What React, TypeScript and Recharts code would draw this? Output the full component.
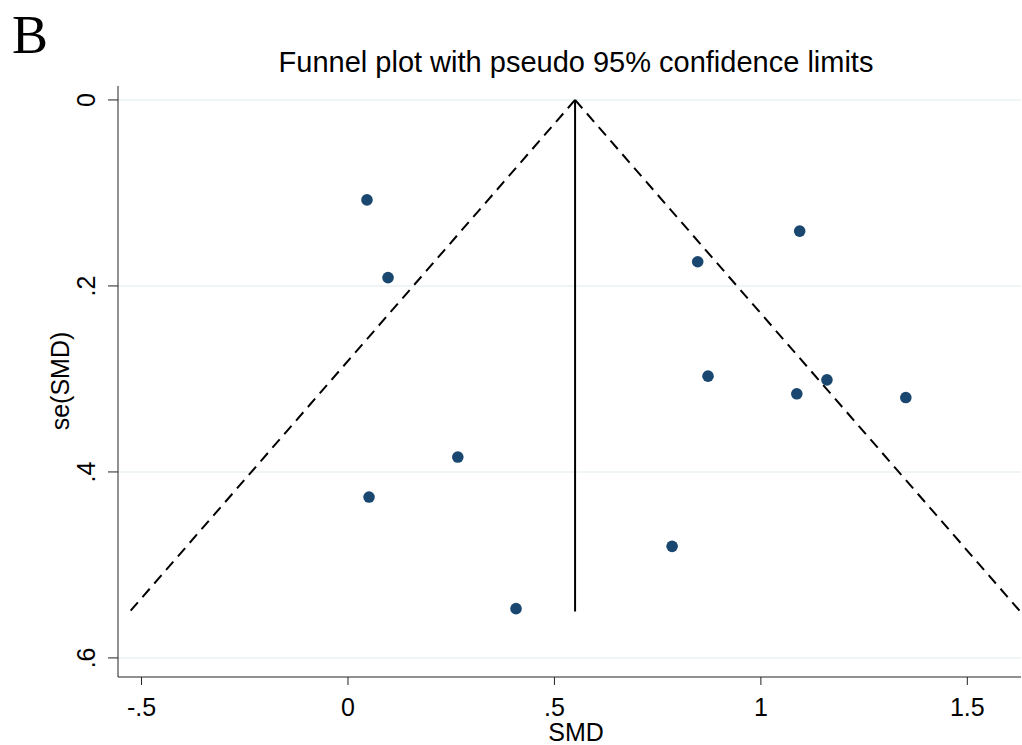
import React from "react";
import {
  ComposedChart,
  Scatter,
  XAxis,
  YAxis,
  CartesianGrid,
  ReferenceLine,
} from "recharts";

// study estimates
const smd = [0.046, 0.097, 1.094, 0.847, 0.872, 1.087, 1.16, 1.351, 0.266, 0.051, 0.785, 0.407];
const seSmd = [0.1075, 0.191, 0.141, 0.174, 0.297, 0.316, 0.301, 0.32, 0.384, 0.427, 0.48, 0.547];

// funnel: pooled estimate and pseudo 95% limits at max se
const apex = [0.55, 0];
const leftEnd = [-0.528, 0.55];
const rightEnd = [1.628, 0.55];

const xTicks = [-0.5, 0, 0.5, 1, 1.5];
const xTickLabels = ["-.5", "0", ".5", "1", "1.5"];
const yTicks = [0, 0.2, 0.4, 0.6];
const yTickLabels = ["0", ".2", ".4", ".6"];

const points = smd.map((x, i) => ({ x, y: seSmd[i] }));

const FONT = "'Liberation Sans', Arial, sans-serif";
const AXIS = "#222";

const YTick = (props: any) => {
  const { x, y, payload } = props;
  const i = yTicks.indexOf(payload.value);
  const bx = x - 11;
  return (
    <text
      x={bx}
      y={y}
      transform={`rotate(-90, ${bx}, ${y})`}
      textAnchor="middle"
      fontSize={25}
      fontFamily={FONT}
      fill="#000"
    >
      {yTickLabels[i]}
    </text>
  );
};

const XTick = (props: any) => {
  const { x, y, payload } = props;
  const i = xTicks.indexOf(payload.value);
  return (
    <text x={x} y={y} dy="0.71em" textAnchor="middle" fontSize={25} fontFamily={FONT} fill="#000">
      {xTickLabels[i]}
    </text>
  );
};

const Dot = (props: any) => <circle cx={props.cx} cy={props.cy} r={5.8} fill="#1a476f" />;

export default function App() {
  return (
    <div style={{ position: "absolute", left: 0, top: 0, width: 1022, height: 745, background: "#fff" }}>
      <ComposedChart width={1022} height={745} margin={{ top: 86, right: 1, bottom: 0, left: 0 }}>
        <CartesianGrid stroke="#eaf2f3" strokeWidth={1.5} vertical={false} horizontalValues={yTicks} />
        <XAxis
          type="number"
          dataKey="x"
          domain={[-0.557, 1.63]}
          ticks={xTicks}
          allowDataOverflow
          height={68}
          tickSize={8}
          tickMargin={13}
          stroke={AXIS}
          tick={<XTick />}
        />
        <YAxis
          type="number"
          dataKey="y"
          reversed
          domain={[-0.015, 0.6205]}
          ticks={yTicks}
          allowDataOverflow
          width={118}
          tickSize={10}
          stroke={AXIS}
          tick={<YTick />}
        />
        <ReferenceLine
          segment={[{ x: apex[0], y: apex[1] }, { x: leftEnd[0], y: leftEnd[1] }]}
          stroke="#000"
          strokeWidth={2}
          strokeDasharray="11 7"
        />
        <ReferenceLine
          segment={[{ x: apex[0], y: apex[1] }, { x: rightEnd[0], y: rightEnd[1] }]}
          stroke="#000"
          strokeWidth={2}
          strokeDasharray="11 7"
        />
        <ReferenceLine
          segment={[{ x: apex[0], y: apex[1] }, { x: apex[0], y: leftEnd[1] }]}
          stroke="#000"
          strokeWidth={2}
        />
        <Scatter data={points} shape={<Dot />} isAnimationActive={false} />
      </ComposedChart>
      <svg width={1022} height={745} style={{ position: "absolute", left: 0, top: 0, pointerEvents: "none" }}>
        <text x={12} y={53} fontSize={54} fontFamily="'Liberation Serif', 'Times New Roman', serif" fill="#000">
          B
        </text>
        <text x={576} y={72} textAnchor="middle" fontSize={29} fontFamily={FONT} fill="#000">
          Funnel plot with pseudo 95% confidence limits
        </text>
        <text x={576} y={741} textAnchor="middle" fontSize={25} fontFamily={FONT} fill="#000">
          SMD
        </text>
        <text
          x={69}
          y={381}
          transform="rotate(-90, 69, 381)"
          textAnchor="middle"
          fontSize={25}
          fontFamily={FONT}
          fill="#000"
        >
          se(SMD)
        </text>
      </svg>
    </div>
  );
}
